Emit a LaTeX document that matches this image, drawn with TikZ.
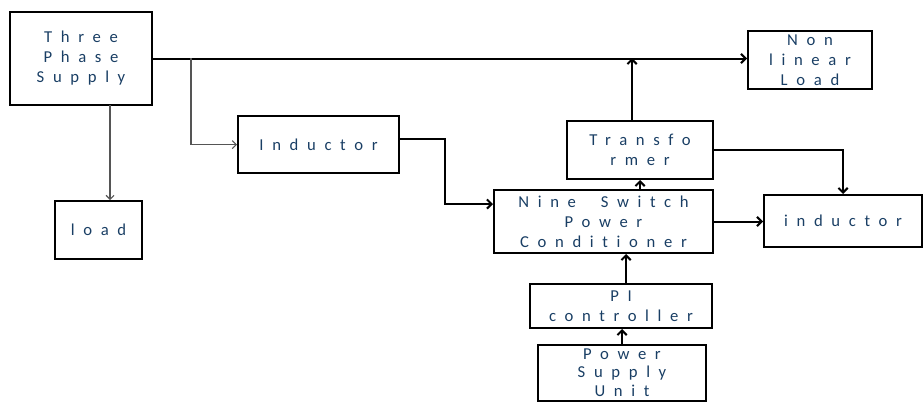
\documentclass[tikz,border=0pt]{standalone}
\usepackage{fontspec}
\newfontfamily\blockfont{Carlito}[LetterSpace=52,Ligatures=NoCommon]
\usetikzlibrary{calc,arrows.meta}
\definecolor{txtblue}{RGB}{25,62,100}

\begin{document}
\begin{tikzpicture}[x=0.75pt,y=0.75pt,yscale=-1,xscale=1,
  blk/.style={draw, line width=1.5, inner sep=0.75pt, align=center, text=txtblue, font=\blockfont\fontsize{12.5}{15}\selectfont},
  thk/.style={line width=1.5, -{Straight Barb[length=3.5pt,width=7pt]}},
  thn/.style={draw={rgb,255:red,85;green,85;blue,85}, line width=0.8, -{Straight Barb[length=3pt,width=6pt]}}]
%uncomment if require: \path (0,401); %set diagram left start at 0, and has height of 401
\useasboundingbox (0,0) rectangle (923,401);

%Shape: Rectangle [id:supply]
\node [blk, minimum width=106.5pt, minimum height=69.75pt] (supply) at (81,58.5) {Three\\Phase\\Supply};
%Shape: Rectangle [id:load]
\node [blk, minimum width=65.25pt, minimum height=43.5pt] (load) at (98.5,230) {load};
%Shape: Rectangle [id:ind]
\node [blk, minimum width=120.75pt, minimum height=42.75pt] (ind) at (318.5,144.5) {Inductor};
%Shape: Rectangle [id:nll]
\node [blk, minimum width=93pt, minimum height=43.5pt] (nll) at (810,60) {Non\\linear\\Load};
%Shape: Rectangle [id:trans]
\node [blk, minimum width=109.5pt, minimum height=43.5pt] (trans) at (640,150) {Transfo\\rmer};
%Shape: Rectangle [id:nsw]
\node [blk, minimum width=164.25pt, minimum height=47.25pt] (nsw) at (603.5,221.5) {Nine~~Switch\\Power\\Conditioner};
%Shape: Rectangle [id:indr]
\node [blk, minimum width=118.5pt, minimum height=39pt] (indr) at (843,221) {inductor};
%Shape: Rectangle [id:pi]
\node [blk, minimum width=136.5pt, minimum height=33pt] (pi) at (621,306) {PI\\controller};
%Shape: Rectangle [id:psu]
\node [blk, minimum width=126pt, minimum height=42pt, font=\blockfont\fontsize{12.5}{14}\selectfont] (psu) at (622,372.5) {Power\\Supply\\Unit};

\coordinate (br) at (191,58);
\coordinate (tap) at (632,58);
\coordinate (bend) at (445,204);
\coordinate (ldtop) at (110,105);
\coordinate (pitop) at (626,284);

%Straight Lines [id:main]
\draw [thk] (supply.east) -- (supply.east -| nll.west);
%Straight Lines [id:toload]
\draw [thn] (ldtop) -- (ldtop |- load.north);
%Straight Lines [id:toind]
\draw [thn] (br) |- (ind.west);
%Straight Lines [id:indnsw]
\draw [thk] ($(ind.east)+(0,-6)$) -| (bend) -- (bend -| nsw.west);
%Straight Lines [id:transup]
\draw [thk] (tap |- trans.north) -- (tap);
%Straight Lines [id:nswtrans]
\draw [thk] (trans.south |- nsw.north) -- (trans.south);
%Straight Lines [id:transindr]
\draw [thk] (trans.east) -| (indr.north);
%Straight Lines [id:nswindr]
\draw [thk] (nsw.east) -- (nsw.east -| indr.west);
%Straight Lines [id:pinsw]
\draw [thk] (pitop) -- (pitop |- nsw.south);
%Straight Lines [id:psupi]
\draw [thk] (psu.north) -- (psu.north |- pi.south);

\end{tikzpicture}
\end{document}
